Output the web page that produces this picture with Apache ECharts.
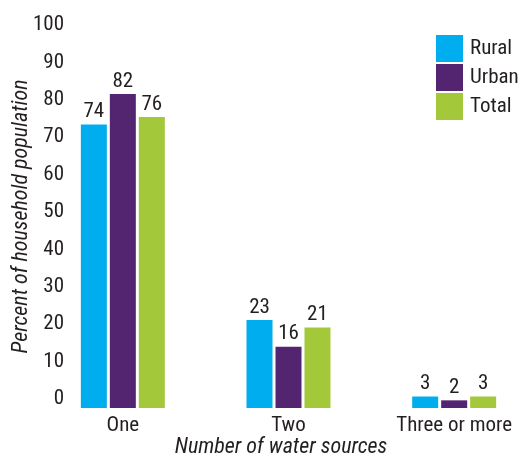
<!DOCTYPE html>
<html>
<head>
<meta charset="utf-8">
<script src="https://cdn.jsdelivr.net/npm/echarts@6/dist/echarts.min.js"></script>
<style>html,body{margin:0;padding:0;background:#fff}#c{width:520px;height:457px}</style>
</head>
<body>
<div id="c"></div>
<script>
var categories = ['One', 'Two', 'Three or more'];
var rural = [74, 23, 3];
var urban = [82, 16, 2];
var total = [76, 21, 3];
var yTicks = [0, 10, 20, 30, 40, 50, 60, 70, 80, 90, 100];

var FONT = "'Roboto Condensed', 'DejaVu Sans', sans-serif";
var FS = 21;
var TFS = 22;
var TXT = '#231f20';
var chart = echarts.init(document.getElementById('c'));
function lbl() {
  return { show: true, position: 'top', distance: 2, color: TXT, fontSize: FS, fontFamily: FONT };
}
chart.setOption({
  animation: false,
  textStyle: { fontFamily: FONT },
  grid: [
    { left: 40, right: -17, top: 25, bottom: 49, outerBoundsMode: 'none', containLabel: false },
    { left: 68, width: 10, top: 25, bottom: 58, outerBoundsMode: 'none', containLabel: false }
  ],
  legend: {
    orient: 'vertical', left: 436, top: 35, padding: 0, itemWidth: 27, itemHeight: 27, itemGap: 2,
    icon: 'rect', textStyle: { fontSize: FS, color: TXT, fontFamily: FONT, padding: [0, 0, 0, 2] },
    data: ['Rural', 'Urban', 'Total']
  },
  xAxis: [
    { type: 'category', gridIndex: 0, data: categories,
      axisLine: { show: false }, axisTick: { show: false },
      axisLabel: { color: TXT, fontSize: FS, fontFamily: FONT, margin: 7, interval: 0 } },
    { type: 'value', gridIndex: 1, show: false }
  ],
  yAxis: [
    { type: 'value', gridIndex: 0, min: 0, max: 100, show: true,
      axisLine: { show: false }, axisTick: { show: false }, axisLabel: { show: false },
      splitLine: { show: false },
      name: 'Percent of household population', nameLocation: 'middle', nameGap: 8,
      nameTextStyle: { fontSize: TFS, fontStyle: 'italic', color: TXT, fontFamily: FONT } },
    { type: 'value', gridIndex: 1, min: yTicks[0], max: yTicks[yTicks.length - 1], interval: 10,
      axisLine: { show: false }, axisTick: { show: false }, splitLine: { show: false },
      axisLabel: { color: TXT, fontSize: FS, fontFamily: FONT, margin: 4 } }
  ],
  graphic: [
    { type: 'text', x: 281, y: 447,
      style: { text: 'Number of water sources', fill: TXT, textAlign: 'center', textVerticalAlign: 'middle',
               font: "italic " + TFS + "px " + FONT } }
  ],
  series: [
    { name: 'Rural', type: 'bar', data: rural, barWidth: 26, barGap: '11.5%', itemStyle: { color: '#00adee' }, label: lbl() },
    { name: 'Urban', type: 'bar', data: urban, barWidth: 26, barGap: '11.5%', itemStyle: { color: '#532570' }, label: lbl() },
    { name: 'Total', type: 'bar', data: total, barWidth: 26, barGap: '11.5%', itemStyle: { color: '#a3c83a' }, label: lbl() }
  ]
});
</script>
</body>
</html>
